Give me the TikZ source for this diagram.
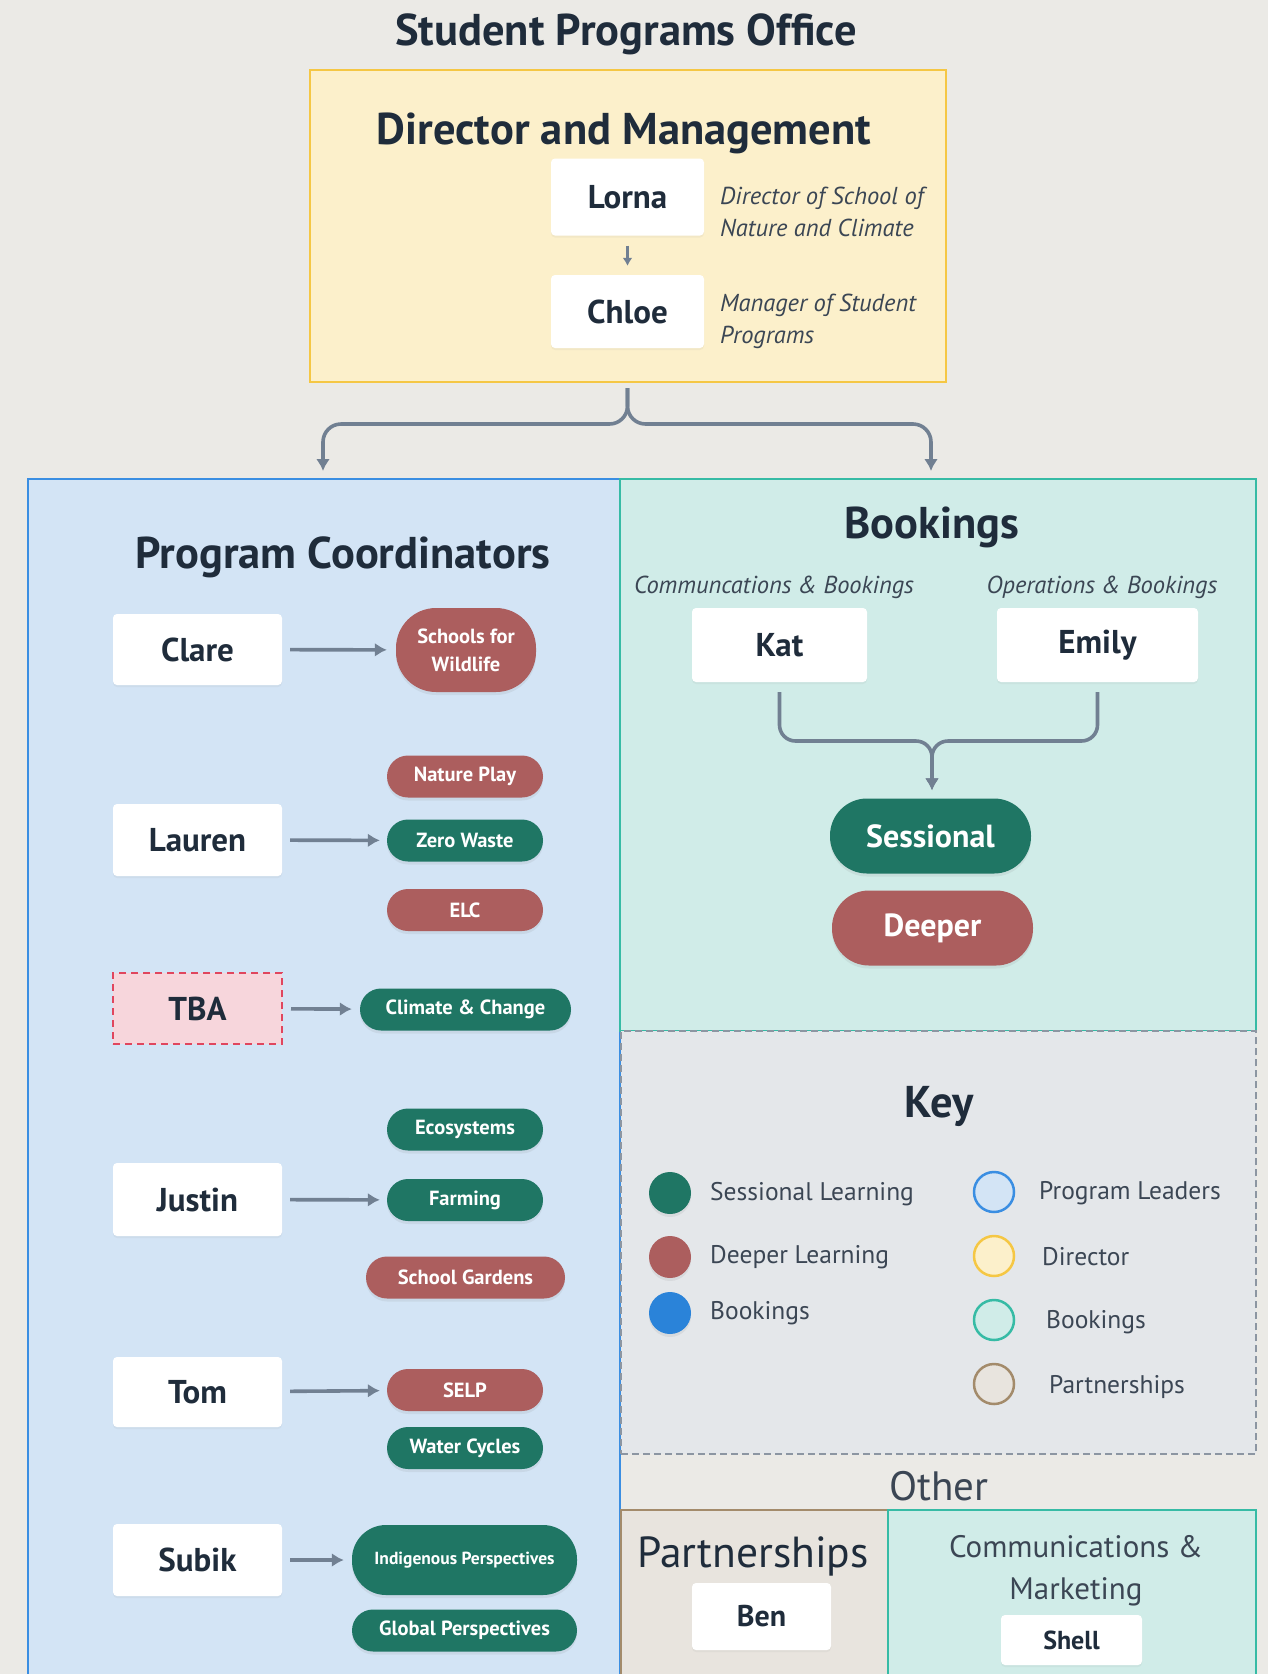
\documentclass[tikz,border=0pt]{standalone}
\usepackage{fontspec}
\setmainfont{PT Sans}
\usetikzlibrary{arrows.meta,shadows,calc}

\definecolor{bg}{HTML}{EBEAE6}
\definecolor{ink}{HTML}{1F2C3B}
\definecolor{inksoft}{HTML}{3B4654}
\definecolor{linec}{HTML}{718092}
\definecolor{yelfill}{HTML}{FCF0CB}
\definecolor{yeldraw}{HTML}{F5C744}
\definecolor{bluefill}{HTML}{D3E4F5}
\definecolor{bluedraw}{HTML}{3A8EE2}
\definecolor{tealfill}{HTML}{D0ECE8}
\definecolor{tealdraw}{HTML}{36BBA5}
\definecolor{keyfill}{HTML}{E4E7EA}
\definecolor{keydraw}{HTML}{8C96A2}
\definecolor{beigefill}{HTML}{E8E4DE}
\definecolor{beigedraw}{HTML}{A38B6B}
\definecolor{sessgreen}{HTML}{1F7664}
\definecolor{deepred}{HTML}{AC5E5E}
\definecolor{bookblue}{HTML}{2A83D9}
\definecolor{tbafill}{HTML}{F7D6DC}
\definecolor{tbadraw}{HTML}{E0465E}

\newcommand\fsz[2]{\fontsize{#1}{#2}\selectfont}

\begin{document}
\begin{tikzpicture}[x=1pt,y=-1pt,
  panel/.style={rectangle, inner sep=0pt, line width=2pt},
  heading/.style={text=ink, font=\bfseries\fsz{44.5}{50}},
  namebox/.style={rectangle, fill=white, rounded corners=4, inner sep=0pt,
    text=ink, font=\bfseries\fsz{33}{36},
    drop shadow={shadow xshift=0pt, shadow yshift=-2pt, opacity=0.08}},
  role/.style={text=inksoft, font=\itshape\fsz{24.5}{32}, align=left, anchor=west, inner sep=0pt},
  pill/.style={rectangle, rounded corners=21, minimum height=42, inner sep=0pt,
    text=white, font=\bfseries\fsz{20.5}{26}, align=center,
    drop shadow={shadow xshift=0pt, shadow yshift=-3pt, opacity=0.12}},
  sess/.style={pill, fill=sessgreen},
  deep/.style={pill, fill=deepred},
  conn/.style={draw=linec, line width=3.6pt},
  arr/.style={conn, -{Latex[length=12pt,width=14pt]}},
  keydot/.style={circle, minimum size=42, inner sep=0pt},
  keyring/.style={circle, minimum size=40, inner sep=0pt, line width=2.5pt},
  keytext/.style={text=inksoft, font=\fsz{25.5}{30}, anchor=west, inner sep=0pt}
]
% page and background
\path[use as bounding box, fill=bg] (0,0) rectangle (1268,1674);
\clip (0,0) rectangle (1268,1674);

\node[heading] (ttl) at (626,34) {Student Programs Office};

% ---------- Director and Management ----------
\node[panel, fill=yelfill, draw=yeldraw, minimum width=636, minimum height=312] (dir) at (627.5,226) {};
\node[heading] (dirttl) at (624,133) {Director and Management};
\node[namebox, minimum width=153, minimum height=77] (lorna) at (627.5,197) {Lorna};
\node[namebox, minimum width=153, minimum height=73] (chloe) at (627.5,311.5) {Chloe};
\node[role] (lornarole) at (720,212) {Director of School of\\Nature and Climate};
\node[role] (chloerole) at (720,321.5) {Manager of Student\\Programs};
\draw[conn, line width=2.8pt, -{Latex[length=8pt,width=10pt]}, shorten <=10pt, shorten >=9pt] (lorna) -- (chloe);

% ---------- main panels ----------
\node[panel, fill=bluefill, draw=bluedraw, minimum width=592, minimum height=1211] (pc) at (324,1084.5) {};
\node[panel, fill=tealfill, draw=tealdraw, minimum width=636, minimum height=552] (bk) at (938,755) {};
\node[panel, fill=keyfill, draw=keydraw, dash pattern=on 7pt off 4pt, line width=1.8pt, minimum width=635, minimum height=423] (key) at (938.5,1242.5) {};
\node[panel, fill=beigefill, draw=beigedraw, minimum width=267, minimum height=180] (pt) at (754.5,1600) {};
\node[panel, fill=tealfill, draw=tealdraw, minimum width=368, minimum height=180] (cm) at (1072,1600) {};

% bracket from the director box to the two panels
\coordinate (split) at (627.5,424);
\coordinate (pcin) at (323,471);
\coordinate (bkin) at (931,471);
\draw[arr, rounded corners=18pt] ($(dir.south)+(0,5)$) -- (split) -| (pcin);
\draw[arr, rounded corners=18pt] ($(dir.south)+(0,5)$) -- (split) -| (bkin);

% ---------- Program Coordinators ----------
\node[heading] (pcttl) at (343,557) {Program Coordinators};

\node[namebox, minimum width=169, minimum height=71] (clare) at (197.5,649.5) {Clare};
\node[namebox, minimum width=169, minimum height=72] (lauren) at (197.5,840) {Lauren};
\node[rectangle, fill=tbafill, draw=tbadraw, line width=2pt, dash pattern=on 7pt off 5pt,
      minimum width=169, minimum height=71, inner sep=0pt, text=ink,
      font=\bfseries\fsz{33}{36}] (tba) at (197.5,1008.5) {TBA};
\node[namebox, minimum width=169, minimum height=73] (justin) at (197.5,1199.5) {Justin};
\node[namebox, minimum width=169, minimum height=70] (tom) at (197.5,1392) {Tom};
\node[namebox, minimum width=169, minimum height=72] (subik) at (197.5,1560) {Subik};

\node[deep, minimum width=140, minimum height=84, rounded corners=40, font=\bfseries\fsz{20.5}{28}] (swl) at (466,650) {Schools for\\Wildlife};
\node[deep, minimum width=156] (natplay) at (465,776.5) {Nature Play};
\node[sess, minimum width=156] (zerow) at (465,840.5) {Zero Waste};
\node[deep, minimum width=156] (elc) at (465,910) {ELC};
\node[sess, minimum width=211] (clim) at (465.5,1009.5) {Climate \& Change};
\node[sess, minimum width=156] (eco) at (465,1129.5) {Ecosystems};
\node[sess, minimum width=156] (farm) at (465,1200) {Farming};
\node[deep, minimum width=199] (sgard) at (465.5,1277.5) {School Gardens};
\node[deep, minimum width=156] (selp) at (465,1390) {SELP};
\node[sess, minimum width=156] (water) at (465,1448) {Water Cycles};
\node[sess, minimum width=225, minimum height=70, rounded corners=34, font=\bfseries\fsz{17.5}{20}] (indig) at (464.5,1560) {Indigenous Perspectives};
\node[sess, minimum width=225] (glob) at (464.5,1630.5) {Global Perspectives};

\draw[arr, shorten <=8pt, shorten >=9pt] (clare) -- (swl);
\draw[arr, shorten <=8pt, shorten >=7pt] (lauren) -- (zerow);
\draw[arr, shorten <=8pt, shorten >=8pt] (tba) -- (clim);
\draw[arr, shorten <=8pt, shorten >=7pt] (justin) -- (farm);
\draw[arr, shorten <=8pt, shorten >=7pt] (tom) -- (selp);
\draw[arr, shorten <=8pt, shorten >=8pt] (subik) -- (indig);

% ---------- Bookings ----------
\node[heading] (bkttl) at (932,527) {Bookings};
\node[role, anchor=center] (katrole) at (774,587) {Communcations \& Bookings};
\node[role, anchor=center] (emrole) at (1102,587) {Operations \& Bookings};
\node[namebox, minimum width=175, minimum height=74] (kat) at (779.5,645) {Kat};
\node[namebox, minimum width=201, minimum height=74] (emily) at (1097.5,645) {Emily};

\node[sess, minimum width=201, minimum height=75, rounded corners=37, font=\bfseries\fsz{32}{36}] (sessional) at (930.5,836) {Sessional};
\node[deep, minimum width=201, minimum height=75, rounded corners=37, font=\bfseries\fsz{32}{36}] (deeper) at (932.5,928) {Deeper};

\coordinate (join) at (932,741);
\draw[arr, rounded corners=16pt] ($(kat.south)+(0,10)$) |- (join) -- ($(sessional.north)+(1.5,-8)$);
\draw[arr, rounded corners=16pt] ($(emily.south)+(0,10)$) |- (join) -- ($(sessional.north)+(1.5,-8)$);

% ---------- Key ----------
\node[heading] (keyttl) at (939,1106) {Key};
\node[keydot, fill=sessgreen, drop shadow={shadow xshift=0pt, shadow yshift=-3pt, opacity=0.12}] (k1) at (670,1193) {};
\node[keydot, fill=deepred, drop shadow={shadow xshift=0pt, shadow yshift=-3pt, opacity=0.12}] (k2) at (670,1257) {};
\node[keydot, fill=bookblue, drop shadow={shadow xshift=0pt, shadow yshift=-3pt, opacity=0.12}] (k3) at (670,1313) {};
\node[keytext] (k1t) at (710,1194) {Sessional Learning};
\node[keytext] (k2t) at (710,1257) {Deeper Learning};
\node[keytext] (k3t) at (710,1313) {Bookings};

\node[keyring, fill=bluefill, draw=bluedraw] (r1) at (994,1192) {};
\node[keyring, fill=yelfill, draw=yeldraw] (r2) at (994,1256) {};
\node[keyring, fill=tealfill, draw=tealdraw] (r3) at (994,1320) {};
\node[keyring, fill=beigefill, draw=beigedraw] (r4) at (994,1384) {};
\node[keytext] (r1t) at (1039,1193) {Program Leaders};
\node[keytext] (r2t) at (1042,1257) {Director};
\node[keytext] (r3t) at (1046,1322) {Bookings};
\node[keytext] (r4t) at (1049,1387) {Partnerships};

% ---------- Other ----------
\node[text=inksoft, font=\fsz{41}{46}] (other) at (939,1486) {Other};
\node[text=ink, font=\fsz{43.5}{48}] (ptttl) at (753,1556) {Partnerships};
\node[namebox, minimum width=139, minimum height=67, font=\bfseries\fsz{30}{34}] (ben) at (761.5,1616.5) {Ben};
\node[text=inksoft, font=\fsz{31}{42}, align=center] (cmttl) at (1076,1571) {Communications \&\\Marketing};
\node[namebox, minimum width=141, minimum height=50, font=\bfseries\fsz{26}{30}] (shell) at (1071.5,1640) {Shell};
\end{tikzpicture}
\end{document}
